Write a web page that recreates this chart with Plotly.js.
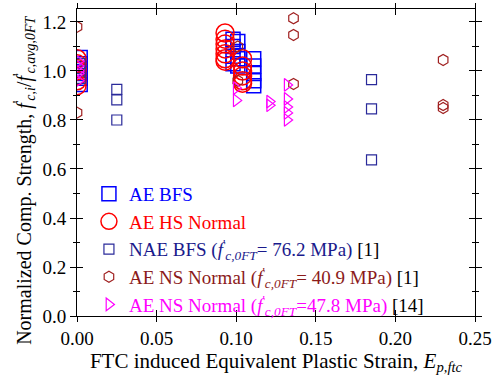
<!DOCTYPE html>
<html>
<head>
<meta charset="utf-8">
<script src="https://cdn.plot.ly/plotly-3.0.1.min.js"></script>
<style>html,body{margin:0;padding:0;background:#fff;}#chart{width:492px;height:376px;}</style>
</head>
<body>
<div id="chart"></div>
<script>
// AE BFS (large blue squares)
const aeBfsX = [0.002,0.002,0.002,0.002,0.002,0.002, 0.098,0.098,0.098,0.098, 0.101,0.101,0.101,0.101, 0.111,0.111,0.111,0.111,0.111];
const aeBfsY = [0.945,0.97,0.99,1.01,1.03,1.055, 1.13,1.10,1.06,1.03, 1.12,1.08,1.05,1.02, 1.05,1.02,0.99,0.96,0.94];
// AE HS Normal (red circles)
const aeHsX = [0,0,0,0,0,0,0, 0.093,0.093,0.093,0.093,0.093,0.093,0.093, 0.104,0.104,0.104,0.104,0.104,0.104];
const aeHsY = [0.94,0.96,0.98,1.0,1.01,1.03,1.05, 1.155,1.13,1.11,1.09,1.07,1.05,1.04, 1.05,1.02,1.0,0.98,0.96,0.95];
// NAE BFS (small navy squares)
const naeX = [0.002,0.002,0.002, 0.025,0.025,0.025, 0.185,0.185,0.185];
const naeY = [0.97,1.0,1.03, 0.925,0.882,0.80, 0.965,0.845,0.637];
// AE NS Normal 40.9 MPa (hexagons)
const nsAX = [0,0, 0.101,0.101, 0.136,0.136,0.136, 0.23,0.23,0.23];
const nsAY = [1.18,0.83, 1.10,0.96, 1.215,1.147,0.947, 1.045,0.861,0.849];
// AE NS Normal 47.8 MPa (triangles)
const nsBX = [0.001,0.001,0.001,0.001,0.001, 0.100,0.100, 0.121,0.121, 0.132,0.132,0.132,0.132,0.132];
const nsBY = [0.96,0.99,1.0,1.02,1.04, 0.93,0.88, 0.875,0.86, 0.943,0.886,0.853,0.829,0.80];

const xTicks = [0,0.05,0.10,0.15,0.20,0.25];
const yTicks = [0,0.2,0.4,0.6,0.8,1.0,1.2];

const fp = "<i>f</i><sup>'</sup>";
const sub = s => '<sub><i>' + s + '</i></sub>';
const xTitle = 'FTC induced Equivalent Plastic Strain, <i>E</i>' + sub('p,ftc');
const yTitle = 'Normalized Comp. Strength, ' + fp + sub('c,i') + '/' + fp + sub('c,avg,0FT');

const traces = [
  {x:aeBfsX,y:aeBfsY,mode:'markers',type:'scatter',name:'<span style="color:#0000ff">AE BFS</span>',
   marker:{symbol:'square-open',size:14,color:'#0000ff',line:{width:1.5,color:'#0000ff'}}},
  {x:aeHsX,y:aeHsY,mode:'markers',type:'scatter',name:'<span style="color:#ff0000">AE HS Normal</span>',
   marker:{symbol:'circle-open',size:18,color:'#ff0000',line:{width:1.5,color:'#ff0000'}}},
  {x:naeX,y:naeY,mode:'markers',type:'scatter',name:'<span style="color:#1a1a8c">NAE BFS ('+fp+sub('c,0FT')+'= 76.2 MPa)</span> [1]',
   marker:{symbol:'square-open',size:10,color:'#2a2a9a',line:{width:1.2,color:'#2a2a9a'}}},
  {x:nsAX,y:nsAY,mode:'markers',type:'scatter',name:'<span style="color:#8b1a1a">AE NS Normal ('+fp+sub('c,0FT')+'= 40.9 MPa)</span> [1]',
   marker:{symbol:'hexagon-open',size:11,color:'#a02020',line:{width:1.2,color:'#a02020'}}},
  {x:nsBX,y:nsBY,mode:'markers',type:'scatter',name:'<span style="color:#ff00ff">AE NS Normal ('+fp+sub('c,0FT')+'=47.8 MPa)</span> [14]',
   marker:{symbol:'triangle-right-open',size:11,color:'#ff00ff',line:{width:1.2,color:'#ff00ff'}}}
];

const fam = '"Liberation Serif", "Times New Roman", serif';
const layout = {
  width:492, height:376,
  margin:{l:77,r:17,t:9,b:60},
  paper_bgcolor:'#fff', plot_bgcolor:'#fff',
  font:{family:fam,size:19,color:'#000'},
  showlegend:true,
  legend:{x:0.03,y:0.46,xanchor:'left',yanchor:'top',bgcolor:'rgba(0,0,0,0)',font:{family:fam,size:19},tracegroupgap:0,itemwidth:30},
  xaxis:{range:[0,0.25],tickvals:xTicks,tickformat:'.2f',ticks:'outside',ticklen:5,tickcolor:'#000',
    showline:true,linecolor:'#000',linewidth:1,mirror:'ticks',showgrid:false,zeroline:false,
    tickfont:{family:fam,size:19},
    title:{text:xTitle,font:{family:fam,size:21},standoff:2}},
  yaxis:{range:[0,1.253],tickvals:yTicks,tickformat:'.1f',ticks:'outside',ticklen:6,tickcolor:'#000',
    minor:{dtick:0.1,ticks:'outside',ticklen:3,tickcolor:'#000'},
    showline:true,linecolor:'#000',linewidth:1,mirror:'ticks',showgrid:false,zeroline:false,
    tickfont:{family:fam,size:19}},
  xaxis2:{overlaying:'x',anchor:'y',range:[0,0.25],tickvals:xTicks,ticks:'inside',ticklen:6,tickcolor:'#000',
    showticklabels:false,showline:false,mirror:'ticks',showgrid:false,zeroline:false},
  yaxis2:{overlaying:'y',anchor:'x',range:[0,1.253],tickvals:yTicks,ticks:'inside',ticklen:6,tickcolor:'#000',
    minor:{dtick:0.1,ticks:'inside',ticklen:3,tickcolor:'#000'},
    showticklabels:false,showline:false,mirror:'ticks',showgrid:false,zeroline:false},
  annotations:[{text:yTitle,textangle:-90,xref:'paper',yref:'paper',x:-0.131,y:0.443,
    xanchor:'center',yanchor:'middle',showarrow:false,font:{family:fam,size:20,color:'#000'}}]
};
// invisible trace to activate overlay axes (inside half of crossing ticks)
traces.push({x:[0],y:[0],xaxis:'x2',yaxis:'y2',mode:'markers',marker:{opacity:0},showlegend:false,hoverinfo:'skip'});
Plotly.newPlot('chart',traces,layout,{displayModeBar:false,staticPlot:true});
</script>
</body>
</html>
